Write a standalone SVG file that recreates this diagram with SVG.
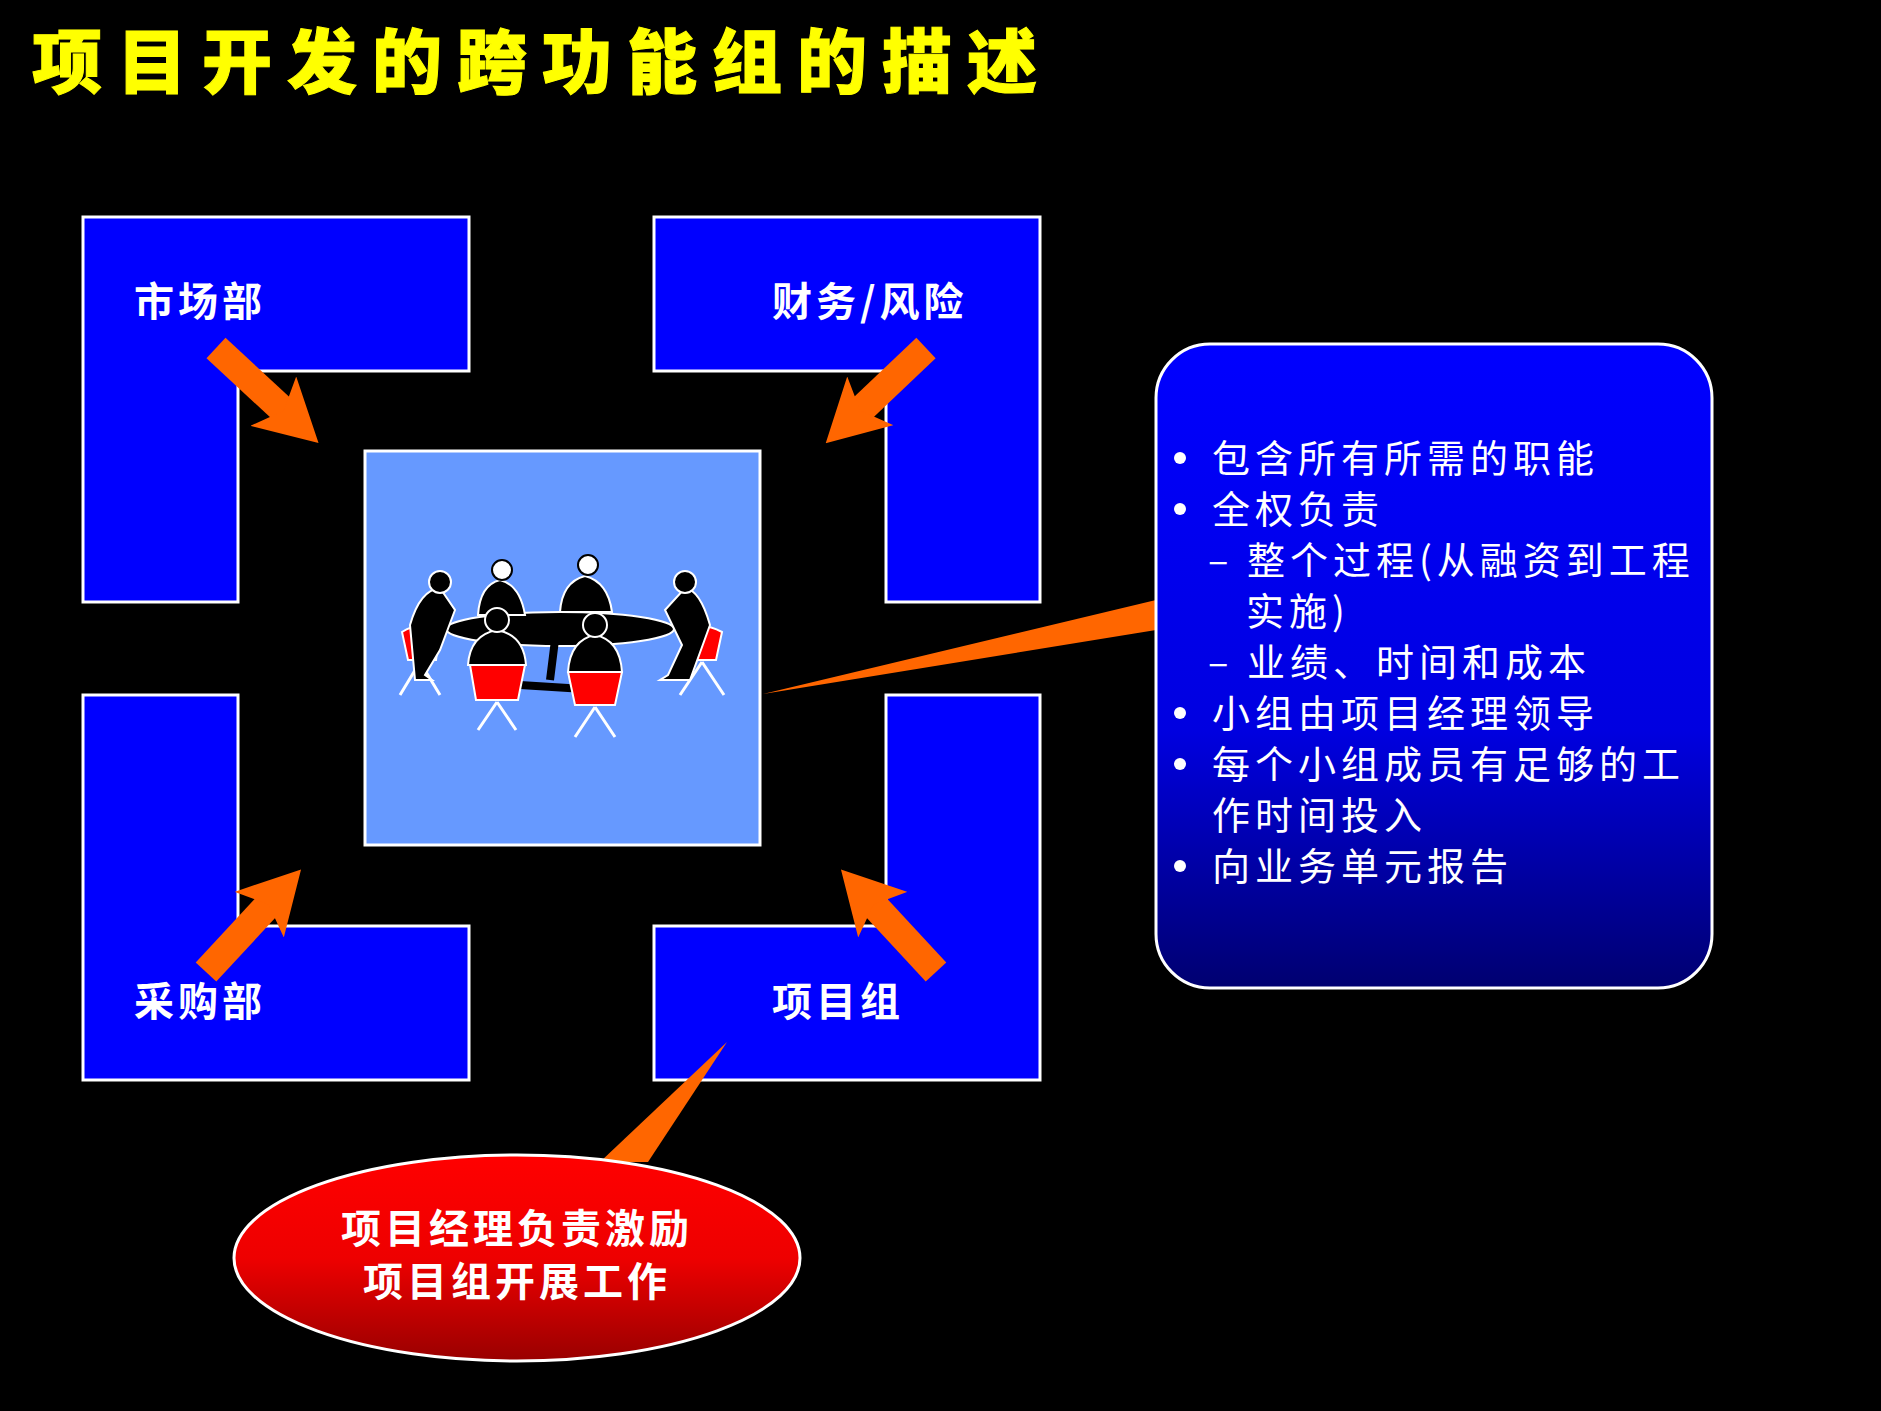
<svg xmlns="http://www.w3.org/2000/svg" width="1881" height="1411" viewBox="0 0 1881 1411">
<defs>
<linearGradient id="gb" x1="0" y1="0" x2="0" y2="1"><stop offset="0" stop-color="#0000FF"/><stop offset="0.6" stop-color="#0000E0"/><stop offset="1" stop-color="#000070"/></linearGradient>
<linearGradient id="gr" x1="0" y1="0" x2="0" y2="1"><stop offset="0" stop-color="#FF0000"/><stop offset="0.5" stop-color="#EE0000"/><stop offset="1" stop-color="#990000"/></linearGradient>
<marker id="ah" markerWidth="2.2" markerHeight="2.4" refX="1.2" refY="1.2" orient="auto"><path d="M0,0 L2.2,1.2 L0,2.4 L0.5,1.2 Z" fill="#FF6600"/></marker>
</defs>
<style>
.box{fill:#0000FF;stroke:#FFFFFF;stroke-width:3}
.lab{font-family:"Noto Sans CJK SC",sans-serif;font-weight:bold;font-size:40px;fill:#FFFFFF;letter-spacing:4px}
.bt{font-family:"Noto Sans CJK SC",sans-serif;font-size:38px;fill:#FFFFFF;letter-spacing:5px}
.arr{stroke:#FF6600;stroke-width:28;fill:none;marker-end:url(#ah)}
.fig{fill:#000;stroke:#fff;stroke-width:2}
.chair{fill:#FF0000;stroke:#fff;stroke-width:2}
</style>
<rect width="1881" height="1411" fill="#000"/>
<text x="32" y="88" font-family="Noto Sans CJK SC,sans-serif" font-weight="900" font-size="70" fill="#FFFF00" letter-spacing="15" stroke="#FFFF00" stroke-width="1">项目开发的跨功能组的描述</text>
<g id="n-market"><path class="box" d="M83,217 H469 V371 H238 V602 H83 Z"/><text class="lab" x="134" y="316">市场部</text></g>
<g id="n-finance"><path class="box" d="M654,217 H1040 V602 H886 V371 H654 Z"/><text class="lab" x="772" y="316">财务/风险</text></g>
<g id="n-purchase"><path class="box" d="M83,695 H238 V926 H469 V1080 H83 Z"/><text class="lab" x="134" y="1016">采购部</text></g>
<g id="n-project"><path class="box" d="M886,695 H1040 V1080 H654 V926 H886 Z"/><text class="lab" x="772" y="1016">项目组</text></g>
<g id="connectors">
<path class="arr" d="M216,348 L298,424"/>
<path class="arr" d="M926,348 L846,424"/>
<path class="arr" d="M206,972 L282,890"/>
<path class="arr" d="M936,972 L860,890"/>
<path d="M1156,600 L1156,630 L763,694 Z" fill="#FF6600"/>
<path d="M600,1162 L648,1162 L727,1042 Z" fill="#FF6600"/>
</g>
<g id="n-team">
<rect x="365" y="451" width="395" height="394" fill="#6699FF" stroke="#fff" stroke-width="3"/>
<ellipse cx="560" cy="629" rx="114" ry="17" class="fig"/>
<path d="M555,640 L550,680 M520,685 L600,690" stroke="#000" stroke-width="8"/>
<path class="fig" d="M478,615 Q480,585 500,580 Q520,585 525,615 Z"/><circle cx="502" cy="570" r="10" fill="#fff" stroke="#000" stroke-width="2"/>
<path class="fig" d="M560,612 Q562,582 585,576 Q608,582 612,612 Z"/><circle cx="588" cy="565" r="10" fill="#fff" stroke="#000" stroke-width="2"/>
<path class="chair" d="M402,632 Q420,620 440,632 L436,660 L408,660 Z"/><path d="M420,662 L400,695 M420,662 L440,695" stroke="#fff" stroke-width="3"/>
<path class="fig" d="M410,625 Q420,590 440,588 L455,610 L440,650 L425,675 L432,680 L415,680 Z"/><circle cx="440" cy="582" r="11" fill="#000" stroke="#fff" stroke-width="2"/>
<path class="chair" d="M680,632 Q700,620 722,632 L716,660 L688,660 Z"/><path d="M702,662 L680,695 M702,662 L724,695" stroke="#fff" stroke-width="3"/>
<path class="fig" d="M710,625 Q700,590 685,588 L665,610 L682,645 L668,675 L660,680 L690,680 Z"/><circle cx="685" cy="582" r="11" fill="#000" stroke="#fff" stroke-width="2"/>
<path class="chair" d="M470,665 Q497,650 525,665 L518,700 L476,700 Z"/><path d="M497,702 L478,730 M497,702 L516,730" stroke="#fff" stroke-width="3"/>
<path class="fig" d="M468,665 Q470,635 497,630 Q524,635 526,665 Z"/><circle cx="497" cy="620" r="12" fill="#000" stroke="#fff" stroke-width="2"/>
<path class="chair" d="M568,672 Q595,657 622,672 L615,705 L575,705 Z"/><path d="M595,707 L575,737 M595,707 L615,737" stroke="#fff" stroke-width="3"/>
<path class="fig" d="M568,672 Q570,640 595,635 Q620,640 622,672 Z"/><circle cx="595" cy="625" r="12" fill="#000" stroke="#fff" stroke-width="2"/>
</g>
<g id="n-desc">
<rect x="1156" y="344" width="556" height="644" rx="54" fill="url(#gb)" stroke="#fff" stroke-width="3"/>
<g fill="#fff"><circle cx="1180" cy="458" r="6"/><circle cx="1180" cy="509" r="6"/><circle cx="1180" cy="713" r="6"/><circle cx="1180" cy="764" r="6"/><circle cx="1180" cy="866" r="6"/></g>
<g class="bt">
<text x="1212" y="472">包含所有所需的职能</text>
<text x="1212" y="523">全权负责</text>
<text x="1208" y="574">– 整个过程(从融资到工程</text>
<text x="1246" y="625">实施)</text>
<text x="1208" y="676">– 业绩、时间和成本</text>
<text x="1212" y="727">小组由项目经理领导</text>
<text x="1212" y="778">每个小组成员有足够的工</text>
<text x="1212" y="829">作时间投入</text>
<text x="1212" y="880">向业务单元报告</text>
</g>
</g>
<g id="n-note">
<ellipse cx="517" cy="1258" rx="283" ry="103" fill="url(#gr)" stroke="#fff" stroke-width="3"/>
<text class="lab" x="517" y="1243" text-anchor="middle" font-size="38" letter-spacing="6">项目经理负责激励</text>
<text class="lab" x="517" y="1296" text-anchor="middle" font-size="38" letter-spacing="6">项目组开展工作</text>
</g>
</svg>
